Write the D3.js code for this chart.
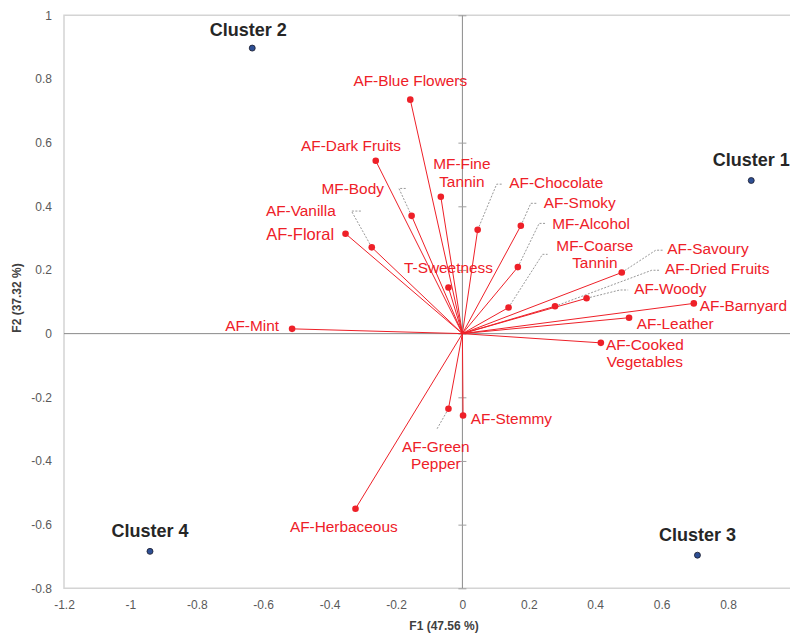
<!DOCTYPE html>
<html>
<head>
<meta charset="utf-8">
<script src="https://cdn.jsdelivr.net/npm/d3@7"></script>
<style>
  body { margin: 0; background: #fff; }
  svg { display: block; font-family: "Liberation Sans", Arial, sans-serif; }
</style>
</head>
<body>
<div id="chart"></div>
<script>
// PCA biplot: variables (red vectors) + cluster centroids (blue dots)

const varNames = ['AF-Blue Flowers', 'AF-Dark Fruits', 'MF-Body', 'AF-Vanilla', 'AF-Floral',
  'MF-Fine\nTannin', 'T-Sweetness', 'AF-Chocolate', 'AF-Smoky', 'MF-Alcohol',
  'MF-Coarse\nTannin', 'AF-Savoury', 'AF-Dried Fruits', 'AF-Woody', 'AF-Barnyard',
  'AF-Leather', 'AF-Cooked\nVegetables', 'AF-Mint', 'AF-Stemmy', 'AF-Green\nPepper', 'AF-Herbaceous']
const varF1 = [-0.157, -0.261, -0.153, -0.273, -0.352,
  -0.065, -0.042, 0.046, 0.176, 0.167,
  0.139, 0.480, 0.279, 0.374, 0.697,
  0.502, 0.417, -0.513, 0.002, -0.042, -0.322]
const varF2 = [0.735, 0.543, 0.370, 0.271, 0.314,
  0.430, 0.145, 0.326, 0.339, 0.209,
  0.082, 0.192, 0.086, 0.111, 0.095,
  0.050, -0.029, 0.015, -0.257, -0.236, -0.550]

const clusterNames = ['Cluster 1', 'Cluster 2', 'Cluster 3', 'Cluster 4']
const clusterF1 = [0.870, -0.633, 0.708, -0.941]
const clusterF2 = [0.481, 0.897, -0.696, -0.684]

const xTicks = [-1.2, -1, -0.8, -0.6, -0.4, -0.2, 0, 0.2, 0.4, 0.6, 0.8]
const yTicks = [-0.8, -0.6, -0.4, -0.2, 0, 0.2, 0.4, 0.6, 0.8, 1]

// label placement (pixel offsets from the point), leaders = [elbow dx, dy, tail length]
const labelLayout = {
  'AF-Blue Flowers': {anchor: 'middle', dx: 0, dy: -14},
  'AF-Dark Fruits': {anchor: 'end', dx: 25.3, dy: -10},
  'MF-Body': {anchor: 'end', dx: -27.7, dy: -21.7, leader: [-12.7, -27.4, -8.3]},
  'AF-Vanilla': {anchor: 'end', dx: -36, dy: -31.6, leader: [-20.3, -36.3, -9.4]},
  'AF-Floral': {anchor: 'end', dx: -11.4, dy: 6.3, size: 16.5},
  'MF-Fine\nTannin': {anchor: 'middle', dx: 21, dy: -27.4},
  'T-Sweetness': {anchor: 'middle', dx: 0, dy: -14},
  'AF-Chocolate': {anchor: 'start', dx: 31.6, dy: -42, leader: [19, -45.7, 5]},
  'AF-Smoky': {anchor: 'start', dx: 23, dy: -17.4, leader: [10, -22.4, 6.7]},
  'MF-Alcohol': {anchor: 'start', dx: 34.3, dy: -38, leader: [21.3, -43.7, 6.4]},
  'MF-Coarse\nTannin': {anchor: 'middle', dx: 86.3, dy: -56.8, leader: [34, -53.2, 5]},
  'AF-Savoury': {anchor: 'start', dx: 45.6, dy: -18.3, leader: [34, -22.3, 7.6]},
  'AF-Dried Fruits': {anchor: 'start', dx: 110, dy: -32, leader: [96.7, -36, 8.3]},
  'AF-Woody': {anchor: 'start', dx: 47.6, dy: -4, leader: [33.3, -8.3, 8.3]},
  'AF-Barnyard': {anchor: 'start', dx: 6, dy: 7.7},
  'AF-Leather': {anchor: 'start', dx: 7.7, dy: 11.3},
  'AF-Cooked\nVegetables': {anchor: 'middle', dx: 44, dy: 7.3},
  'AF-Mint': {anchor: 'end', dx: -13, dy: 2},
  'AF-Stemmy': {anchor: 'start', dx: 7.7, dy: 8.7},
  'AF-Green\nPepper': {anchor: 'middle', dx: -12.6, dy: 43, leader: [-11.7, 20.6, 0]},
  'AF-Herbaceous': {anchor: 'middle', dx: -11.7, dy: 23}
}
const clusterLayout = [{dx: 0, dy: -14.3}, {dx: -4, dy: -12}, {dx: 0, dy: -14}, {dx: 0, dy: -14.6}]

const width = 790, height = 633
const red = '#ee2028'

const svg = d3.select('#chart').append('svg')
  .attr('width', width)
  .attr('height', height)

// scales
const x = d3.scaleLinear().domain([-1.2, 1.0]).range([64, 64 + 2.2 * 332])
const y = d3.scaleLinear().domain([-0.8, 1.0]).range([588.3, 15.3])

// plain hyphen minus like the original
const fmt = d => String(d)

// plot frame (right side runs off the picture)
svg.append('path')
  .attr('d', `M${x.range()[1]},${y(1)}H${x(-1.2)}V${y(-0.8)}H${x.range()[1]}`)
  .attr('fill', 'none')
  .attr('stroke', '#d4d4d4')
  .attr('stroke-width', 1.5)

// tick labels on the frame
const yAxis = svg.append('g')
  .attr('transform', `translate(${x(-1.2)},0)`)
  .call(d3.axisLeft(y).tickValues(yTicks).tickSize(0).tickPadding(12).tickFormat(fmt))
yAxis.select('.domain').remove()

const xAxis = svg.append('g')
  .attr('transform', `translate(0,${y(-0.8)})`)
  .call(d3.axisBottom(x).tickValues(xTicks).tickSize(0).tickPadding(12).tickFormat(fmt))
xAxis.select('.domain').remove()

svg.selectAll('.tick text')
  .attr('fill', '#595959')
  .style('font-size', '12px')
  .style('font-family', '"Liberation Sans", Arial, sans-serif')

// zero lines
svg.append('line')
  .attr('x1', x(-1.2)).attr('x2', x.range()[1])
  .attr('y1', y(0)).attr('y2', y(0))
  .attr('stroke', '#8a8a8a')
svg.append('line')
  .attr('x1', x(0)).attr('x2', x(0))
  .attr('y1', y(1)).attr('y2', y(-0.8))
  .attr('stroke', '#8a8a8a')

// cross ticks on the vertical zero line
const zeroTicks = svg.append('g')
  .attr('transform', `translate(${x(0) - 4},0)`)
  .call(d3.axisRight(y).tickValues(yTicks).tickSize(8).tickFormat(''))
zeroTicks.select('.domain').remove()
zeroTicks.selectAll('line').attr('stroke', '#a0a0a0')

// axis titles
svg.append('text')
  .attr('x', 444).attr('y', 630)
  .attr('text-anchor', 'middle')
  .attr('font-size', 12).attr('font-weight', 'bold')
  .attr('fill', '#404040')
  .text('F1 (47.56 %)')
svg.append('text')
  .attr('transform', 'translate(21,298) rotate(-90)')
  .attr('text-anchor', 'middle')
  .attr('font-size', 12).attr('font-weight', 'bold')
  .attr('fill', '#404040')
  .text('F2 (37.32 %)')

const vars = varNames.map((n, i) => ({name: n, f1: varF1[i], f2: varF2[i]}))

// leader lines
svg.append('g').selectAll('path')
  .data(vars.filter(d => labelLayout[d.name].leader))
  .enter().append('path')
  .attr('d', d => {
    const px = x(d.f1), py = y(d.f2), L = labelLayout[d.name].leader
    const ex = px + L[0], ey = py + L[1]
    const tail = L[2] === 0 ? '' : `H${ex + (L[0] < 0 && labelLayout[d.name].anchor === 'end' ? -L[2] : L[2])}`
    return `M${px},${py}L${ex},${ey}${tail}`
  })
  .attr('fill', 'none')
  .attr('stroke', '#7f7f7f')
  .attr('stroke-width', 0.8)
  .attr('stroke-dasharray', '2,1.5')

// vectors
svg.append('g').selectAll('line')
  .data(vars)
  .enter().append('line')
  .attr('x1', x(0)).attr('y1', y(0))
  .attr('x2', d => x(d.f1)).attr('y2', d => y(d.f2))
  .attr('stroke', red)
  .attr('stroke-width', 1)

svg.append('g').selectAll('circle')
  .data(vars)
  .enter().append('circle')
  .attr('cx', d => x(d.f1)).attr('cy', d => y(d.f2))
  .attr('r', 3.3)
  .attr('fill', red)

// variable labels
const labels = svg.append('g').selectAll('text')
  .data(vars)
  .enter().append('text')
  .attr('text-anchor', d => labelLayout[d.name].anchor)
  .attr('font-size', d => labelLayout[d.name].size || 15.4)
  .attr('fill', red)
labels.each(function(d) {
  const lay = labelLayout[d.name]
  d.name.split('\n').forEach((line, k) => {
    d3.select(this).append('tspan')
      .attr('x', x(d.f1) + lay.dx)
      .attr('y', y(d.f2) + lay.dy + k * 17.3)
      .text(line)
  })
})

// clusters
const clusters = clusterNames.map((n, i) => ({name: n, f1: clusterF1[i], f2: clusterF2[i], lay: clusterLayout[i]}))

svg.append('g').selectAll('circle')
  .data(clusters)
  .enter().append('circle')
  .attr('cx', d => x(d.f1)).attr('cy', d => y(d.f2))
  .attr('r', 3)
  .attr('fill', '#2e4f94')
  .attr('stroke', '#1b1b2a')
  .attr('stroke-width', 0.8)

svg.append('g').selectAll('text')
  .data(clusters)
  .enter().append('text')
  .attr('x', d => x(d.f1) + d.lay.dx)
  .attr('y', d => y(d.f2) + d.lay.dy)
  .attr('text-anchor', 'middle')
  .attr('font-size', 18)
  .attr('font-weight', 'bold')
  .attr('fill', '#262626')
  .text(d => d.name)
</script>
</body>
</html>
